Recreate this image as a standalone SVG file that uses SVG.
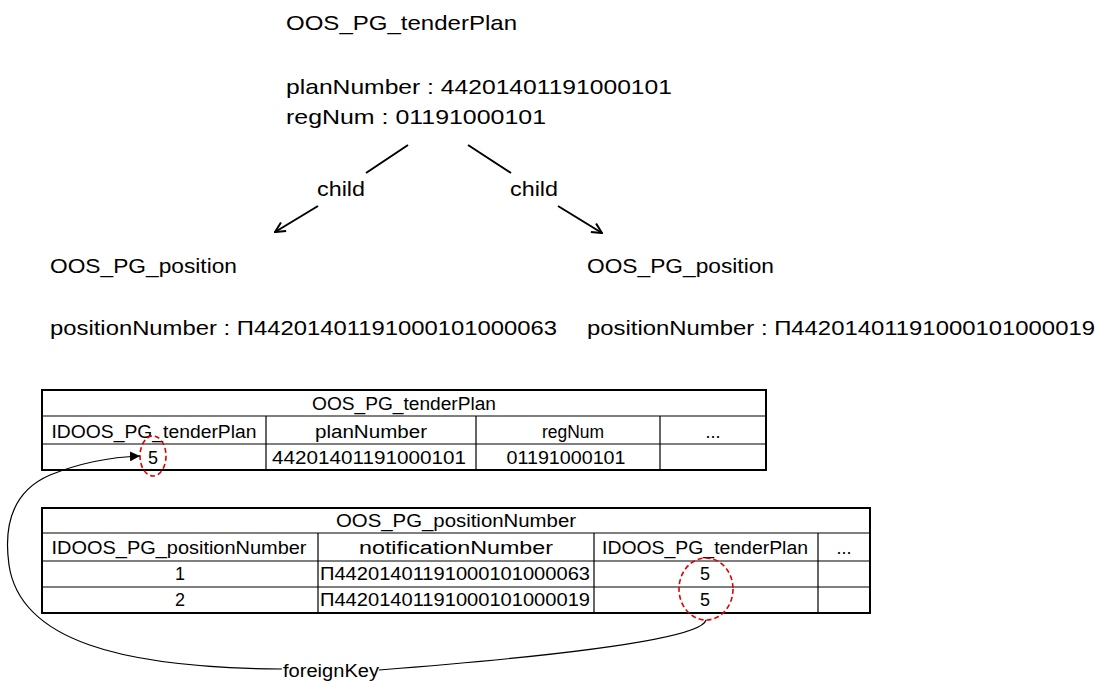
<svg xmlns="http://www.w3.org/2000/svg" width="1100" height="682" viewBox="0 0 1100 682">
  <style>
    text { font-family: "Liberation Sans", Arial, sans-serif; fill: #000; }
    .big { font-size: 21px; }
    .cell { font-size: 18px; }
    .mid { text-anchor: middle; }
    .outer { fill: #fff; stroke: #000; stroke-width: 2; }
    .grid { stroke: #000; stroke-width: 1.2; fill: none; }
    .edge { stroke: #000; stroke-width: 2; fill: none; }
    .fk { stroke: #000; stroke-width: 1.2; fill: none; }
    .hl { stroke: #e00000; stroke-width: 1.6; stroke-dasharray: 5 3; fill: none; }
  </style>
  <defs>
    <marker id="open" viewBox="0 0 12 12" refX="11" refY="6" markerWidth="12" markerHeight="12" markerUnits="userSpaceOnUse" orient="auto">
      <path d="M1,1 L11,6 L1,11" fill="none" stroke="#000" stroke-width="2"/>
    </marker>
    <marker id="solid" viewBox="0 0 10 10" refX="10" refY="5" markerWidth="10" markerHeight="10" markerUnits="userSpaceOnUse" orient="auto">
      <path d="M0,0 L10,5 L0,10 Z" fill="#000"/>
    </marker>
  </defs>

  <!-- object tree -->
  <g id="plan">
    <text class="big" x="286" y="30" textLength="231" lengthAdjust="spacingAndGlyphs">OOS_PG_tenderPlan</text>
    <text class="big" x="286" y="94" textLength="386" lengthAdjust="spacingAndGlyphs">planNumber : 44201401191000101</text>
    <text class="big" x="286" y="124" textLength="260" lengthAdjust="spacingAndGlyphs">regNum : 01191000101</text>
  </g>
  <g id="position-left">
    <text class="big" x="50" y="273" textLength="187" lengthAdjust="spacingAndGlyphs">OOS_PG_position</text>
    <text class="big" x="50" y="335" textLength="507" lengthAdjust="spacingAndGlyphs">positionNumber : П44201401191000101000063</text>
  </g>
  <g id="position-right">
    <text class="big" x="587" y="273" textLength="187" lengthAdjust="spacingAndGlyphs">OOS_PG_position</text>
    <text class="big" x="587" y="335" textLength="508" lengthAdjust="spacingAndGlyphs">positionNumber : П44201401191000101000019</text>
  </g>

  <!-- tables -->
  <g id="table-tenderPlan">
    <rect class="outer" x="42" y="390" width="724" height="80"/>
    <path class="grid" d="M42,416 H766 M42,444 H766 M266,416 V470 M476,416 V470 M660,416 V470"/>
    <text class="cell mid" x="404" y="410" textLength="184" lengthAdjust="spacingAndGlyphs">OOS_PG_tenderPlan</text>
    <text class="cell mid" x="154" y="438" textLength="205" lengthAdjust="spacingAndGlyphs">IDOOS_PG_tenderPlan</text>
    <text class="cell mid" x="371" y="438" textLength="112" lengthAdjust="spacingAndGlyphs">planNumber</text>
    <text class="cell mid" x="573" y="438" textLength="62" lengthAdjust="spacingAndGlyphs">regNum</text>
    <text class="cell mid" x="713" y="438">...</text>
    <text class="cell mid" x="153" y="464">5</text>
    <text class="cell mid" x="369" y="464" textLength="194" lengthAdjust="spacingAndGlyphs">44201401191000101</text>
    <text class="cell mid" x="566" y="464" textLength="119" lengthAdjust="spacingAndGlyphs">01191000101</text>
  </g>
  <g id="table-positionNumber">
    <rect class="outer" x="42" y="508" width="828" height="105"/>
    <path class="grid" d="M42,533 H870 M42,561 H870 M42,587 H870 M318,533 V613 M594,533 V613 M818,533 V613"/>
    <text class="cell mid" x="456" y="527" textLength="240" lengthAdjust="spacingAndGlyphs">OOS_PG_positionNumber</text>
    <text class="cell mid" x="179" y="554" textLength="255" lengthAdjust="spacingAndGlyphs">IDOOS_PG_positionNumber</text>
    <text class="cell mid" x="456" y="554" textLength="194" lengthAdjust="spacingAndGlyphs">notificationNumber</text>
    <text class="cell mid" x="705" y="554" textLength="206" lengthAdjust="spacingAndGlyphs">IDOOS_PG_tenderPlan</text>
    <text class="cell mid" x="844" y="554">...</text>
    <text class="cell mid" x="180" y="580">1</text>
    <text class="cell" x="320" y="580" textLength="270" lengthAdjust="spacingAndGlyphs">П44201401191000101000063</text>
    <text class="cell mid" x="705" y="580">5</text>
    <text class="cell mid" x="180" y="606">2</text>
    <text class="cell" x="320" y="606" textLength="270" lengthAdjust="spacingAndGlyphs">П44201401191000101000019</text>
    <text class="cell mid" x="705" y="606">5</text>
  </g>

  <!-- key highlights -->
  <g id="highlights">
    <ellipse class="hl" cx="153" cy="456" rx="13" ry="20"/>
    <ellipse class="hl" cx="706" cy="589" rx="27" ry="31"/>
  </g>

  <!-- connectors -->
  <g id="connectors">
    <line class="edge" x1="408" y1="145" x2="366" y2="173"/>
    <line class="edge" x1="318" y1="206" x2="275" y2="232" marker-end="url(#open)"/>
    <text class="big" x="317" y="196" textLength="48" lengthAdjust="spacingAndGlyphs">child</text>
    <line class="edge" x1="468" y1="145" x2="511" y2="173"/>
    <line class="edge" x1="558" y1="206" x2="602" y2="233" marker-end="url(#open)"/>
    <text class="big" x="510" y="196" textLength="48" lengthAdjust="spacingAndGlyphs">child</text>

    <path class="fk" d="M706,620 Q700,645 379,670"/>
    <path class="fk" d="M282,669 C120,668 20,640 9,565 C2,515 20,488 50,475 C80,463 110,457 140,456" marker-end="url(#solid)"/>
    <text x="283" y="677" font-size="18" textLength="96" lengthAdjust="spacingAndGlyphs">foreignKey</text>
  </g>
</svg>
